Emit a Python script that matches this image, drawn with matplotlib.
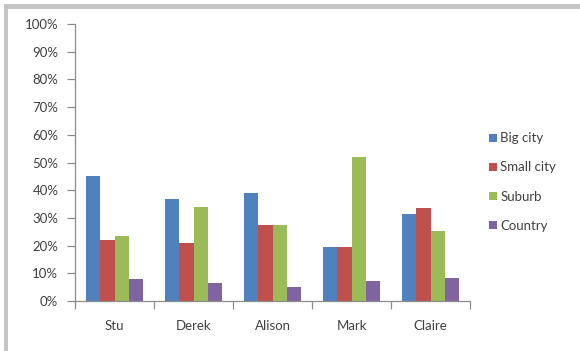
import numpy as np
import matplotlib
matplotlib.use("Agg")
import matplotlib.pyplot as plt
from matplotlib.patches import Rectangle
from matplotlib.ticker import PercentFormatter

# Where each person would prefer to live (share of votes)
people = ["Stu", "Derek", "Alison", "Mark", "Claire"]
places = ["Big city", "Small city", "Suburb", "Country"]
big_city = [45, 37, 39, 19.6, 31.5]
small_city = [22, 21, 27.3, 19.6, 33.5]
suburb = [23.6, 34, 27.3, 52.1, 25.2]
country = [8, 6.4, 5, 7.1, 8.2]
colors = ["#4F81BD", "#C0504D", "#9BBB59", "#8064A2"]

plt.rcParams["font.family"] = ["Lato", "DejaVu Sans"]
FS = 9.5

fig = plt.figure(figsize=(5.8, 3.51), dpi=100)
fig.patch.set_facecolor("white")

# light grey frame on the top and left edge
W, H = 580, 351
fig.patches.append(Rectangle((4 / W, 1 - 9 / H), 1, 5 / H, transform=fig.transFigure,
                             facecolor="#C4C4C4", edgecolor="none"))
fig.patches.append(Rectangle((4 / W, 0), 3.5 / W, 1 - 4 / H, transform=fig.transFigure,
                             facecolor="#C4C4C4", edgecolor="none"))

ax = fig.add_axes([75 / W, 50 / H, 395 / W, 277 / H])

series = [big_city, small_city, suburb, country]
x = np.arange(len(people))
w = 1 / 5.5
for i, (vals, c) in enumerate(zip(series, colors)):
    ax.bar(x + (i - 1.5) * w, vals, width=w, color=c, label=places[i], linewidth=0)

ax.set_xlim(-0.5, len(people) - 0.5)
ax.set_ylim(0, 100)
ax.set_yticks(np.arange(0, 101, 10))
ax.yaxis.set_major_formatter(PercentFormatter(decimals=0))

# boundary ticks between groups, labels centred under each group
ax.set_xticks(np.arange(-0.5, len(people), 1))
ax.set_xticklabels([])
ax.set_xticks(x, minor=True)
ax.set_xticklabels(people, minor=True)
ax.tick_params(axis="x", which="minor", length=0, pad=14)

for s in ["top", "right"]:
    ax.spines[s].set_visible(False)
for s in ["left", "bottom"]:
    ax.spines[s].set_color("#8C8C8C")
    ax.spines[s].set_linewidth(0.9)

ax.tick_params(axis="both", which="major", color="#8C8C8C", length=6, width=0.9,
               labelsize=FS, labelcolor="#404040")
ax.tick_params(axis="y", pad=6)
ax.tick_params(axis="x", which="minor", labelsize=FS, labelcolor="#404040")

ax.legend(loc="upper left", bbox_to_anchor=(484 / W, 1 - 127 / H),
          bbox_transform=fig.transFigure, frameon=False, fontsize=FS,
          handlelength=0.55, handleheight=0.55, handletextpad=0.3,
          labelspacing=1.3, borderaxespad=0, labelcolor="#404040")

fig.savefig("out.png", dpi=100)
